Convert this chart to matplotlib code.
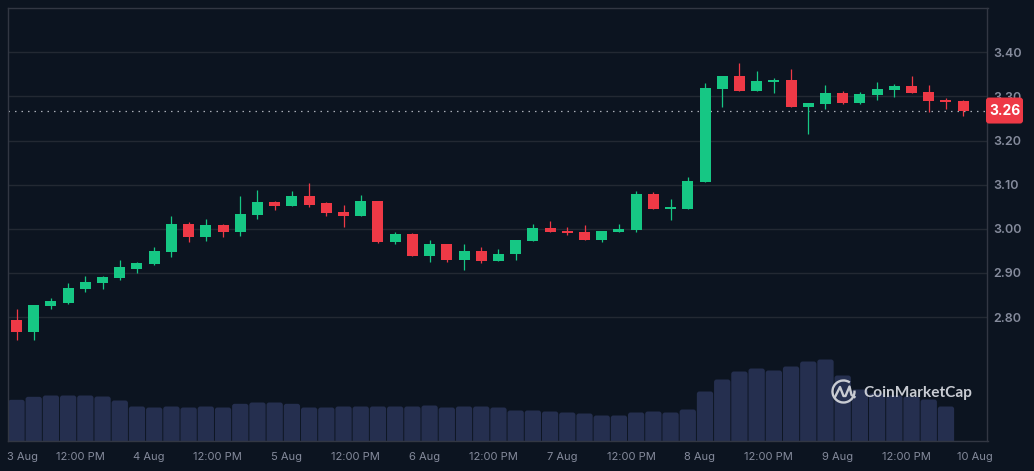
import matplotlib
matplotlib.use("Agg")
import matplotlib.dates as mdates
import matplotlib.pyplot as plt
import pandas as pd
from matplotlib.patches import Arc, FancyBboxPatch
from matplotlib.transforms import Affine2D

opens = [2.793, 2.766, 2.824, 2.833, 2.863, 2.877, 2.888, 2.910, 2.920, 2.947,
         3.012, 2.981, 3.008, 2.992, 3.031, 3.060, 3.051, 3.074, 3.058, 3.037,
         3.028, 3.062, 2.969, 2.988, 2.938, 2.965, 2.929, 2.949, 2.926, 2.942,
         2.972, 3.001, 2.994, 2.992, 2.974, 2.992, 2.997, 3.080, 3.044, 3.046,
         3.106, 3.317, 3.346, 3.312, 3.333, 3.337, 3.276, 3.283, 3.308, 3.285,
         3.303, 3.314, 3.324, 3.310, 3.292, 3.289]
highs = [2.818, 2.827, 2.843, 2.877, 2.892, 2.892, 2.929, 2.924, 2.958, 3.028,
         3.015, 3.022, 3.010, 3.074, 3.089, 3.062, 3.085, 3.103, 3.060, 3.053,
         3.076, 3.062, 2.992, 2.990, 2.974, 2.965, 2.965, 2.958, 2.954, 2.974,
         3.010, 3.017, 3.003, 3.008, 2.994, 3.010, 3.085, 3.083, 3.067, 3.117,
         3.330, 3.346, 3.376, 3.358, 3.342, 3.362, 3.285, 3.326, 3.312, 3.310,
         3.333, 3.328, 3.346, 3.326, 3.296, 3.292]
lows = [2.747, 2.747, 2.818, 2.829, 2.856, 2.863, 2.883, 2.899, 2.917, 2.935,
        2.969, 2.972, 2.981, 2.983, 3.022, 3.042, 3.051, 3.049, 3.028, 3.003,
        3.028, 2.967, 2.965, 2.938, 2.924, 2.924, 2.906, 2.922, 2.926, 2.929,
        2.972, 2.992, 2.985, 2.974, 2.969, 2.992, 2.992, 3.044, 3.019, 3.044,
        3.106, 3.276, 3.312, 3.312, 3.308, 3.276, 3.215, 3.271, 3.283, 3.283,
        3.292, 3.299, 3.308, 3.265, 3.271, 3.255]
closes = [2.766, 2.827, 2.836, 2.865, 2.879, 2.890, 2.913, 2.922, 2.949, 3.012,
          2.981, 3.008, 2.992, 3.033, 3.060, 3.051, 3.074, 3.055, 3.035, 3.028,
          3.062, 2.969, 2.988, 2.938, 2.965, 2.929, 2.949, 2.926, 2.944, 2.974,
          3.001, 2.992, 2.990, 2.974, 2.994, 2.999, 3.080, 3.044, 3.049, 3.108,
          3.319, 3.346, 3.312, 3.335, 3.337, 3.276, 3.285, 3.308, 3.285, 3.305,
          3.317, 3.324, 3.308, 3.289, 3.287, 3.267]
# no volume yet for the last candle
volumes = [40.7, 43.7, 45, 45, 45, 44, 40, 34, 33, 34, 33, 34, 33, 36.7, 38, 38,
           36.7, 33, 33, 34, 34, 34, 34, 34, 35, 33, 34, 34, 33, 30, 30, 29, 28,
           27, 25, 25, 28, 29, 28, 31, 49, 61, 69, 72, 70, 74, 79, 81, 65, 51,
           47, 45, 44, 41, 34]
price_ticks = [2.8, 2.9, 3.0, 3.1, 3.2, 3.3, 3.4]
last_price = 3.268
last_label = "3.26"
# first label is nudged inside the frame, hence 02:00
tick_times = ["2025-08-03 02:00", "2025-08-03 12:00", "2025-08-04 00:00", "2025-08-04 12:00",
              "2025-08-05 00:00", "2025-08-05 12:00", "2025-08-06 00:00", "2025-08-06 12:00",
              "2025-08-07 00:00", "2025-08-07 12:00", "2025-08-08 00:00", "2025-08-08 12:00",
              "2025-08-09 00:00", "2025-08-09 12:00", "2025-08-10 00:00"]
tick_labels = ["3 Aug", "12:00 PM", "4 Aug", "12:00 PM", "5 Aug", "12:00 PM", "6 Aug", "12:00 PM",
               "7 Aug", "12:00 PM", "8 Aug", "12:00 PM", "9 Aug", "12:00 PM", "10 Aug"]

BG = "#0c1420"
GREEN = "#16c784"
RED = "#ee3946"
VOLUME = "#252f4f"
GRID = "#232933"
FRAME = "#323743"
TEXT = "#858b9c"

plt.rcParams["font.family"] = ["Inter", "DejaVu Sans"]

times = mdates.date2num(pd.date_range("2025-08-03 00:54", periods=len(closes), freq="3h"))
day_px = 137.7

fig = plt.figure(figsize=(10.34, 4.71), dpi=100, facecolor=BG)
rect = [7.5 / 1034, 30.5 / 471, 980 / 1034, 433 / 471]

# volume sits in its own axes under the candles, one unit is one pixel high
ax_vol = fig.add_axes(rect, facecolor=BG)
ax_vol.set_ylim(0, 433)
ax_vol.axis("off")
for t, v in zip(times, volumes):
    w = 16.3 / day_px
    ax_vol.add_patch(FancyBboxPatch((t - w / 2, -4), w, v + 4, mutation_aspect=day_px,
                                    boxstyle=f"round,pad=0,rounding_size={2.5 / day_px}",
                                    fc=VOLUME, ec="none"))

ax = fig.add_axes(rect, facecolor="none", zorder=2)
ax.set_ylim(2.5203, 3.5015)
ax.set_yticks(price_ticks, [f"{p:.2f}" for p in price_ticks])
ax.yaxis.tick_right()
ax.set_xticks(mdates.date2num(pd.to_datetime(tick_times)), tick_labels)
ax.tick_params(axis="x", length=0, pad=8.5, labelsize=8, labelcolor=TEXT)
ax.tick_params(axis="y", length=0, pad=4, labelsize=9, labelcolor=TEXT)
for label in ax.get_yticklabels():
    label.set_fontweight("semibold")
ax.grid(True, axis="y", color=GRID, linewidth=1.0)
ax.set_axisbelow(True)
for spine in ax.spines.values():
    spine.set_color(FRAME)
    spine.set_linewidth(1.0)

colors = [GREEN if c >= o else RED for o, c in zip(opens, closes)]
ax.vlines(times, lows, highs, colors=colors, linewidth=0.9, zorder=3)
ax.bar(times, [abs(c - o) for o, c in zip(opens, closes)], bottom=[min(o, c) for o, c in zip(opens, closes)],
       width=11 / day_px, color=colors, zorder=4)
ax.axhline(last_price, color="#a9adb6", linewidth=0.9, dashes=(1.2, 4), zorder=2)

left = times[0] - 9 / day_px
ax.set_xlim(left, left + 980 / day_px)
ax_vol.set_xlim(ax.get_xlim())

# pixel coordinates, origin top left, for the tag and the logo
px = Affine2D().scale(1, -1).translate(0, 471)
tag_y = 471 - ax.transData.transform((times[0], last_price))[1]
fig.add_artist(FancyBboxPatch((986, tag_y - 13), 37, 26, boxstyle="round,pad=0,rounding_size=3",
                              fc=RED, ec="none", transform=px, zorder=5))
fig.text(1004.5, tag_y + 0.5, last_label, transform=px, color="white", fontsize=10, fontweight="bold",
         ha="center", va="center", zorder=6)

# watermark
LOGO = "#c9ccd3"
fig.add_artist(Arc((843.5, 391.5), 22, 22, theta1=-5, theta2=305, transform=px, color=LOGO, linewidth=1.7, zorder=6))
fig.add_artist(plt.Line2D([835, 840, 843.5, 845.5, 849.5, 851.5, 854.5], [397, 387, 396, 396, 386.5, 395, 397],
                          transform=px, color=LOGO, linewidth=1.7, zorder=6))
fig.text(863, 393.5, "CoinMarketCap", transform=px, color=LOGO, fontsize=11.1, fontweight="bold",
         family=["Lato", "DejaVu Sans"], ha="left", va="center", zorder=6)

fig.savefig("out.png", dpi=100, facecolor=BG)
